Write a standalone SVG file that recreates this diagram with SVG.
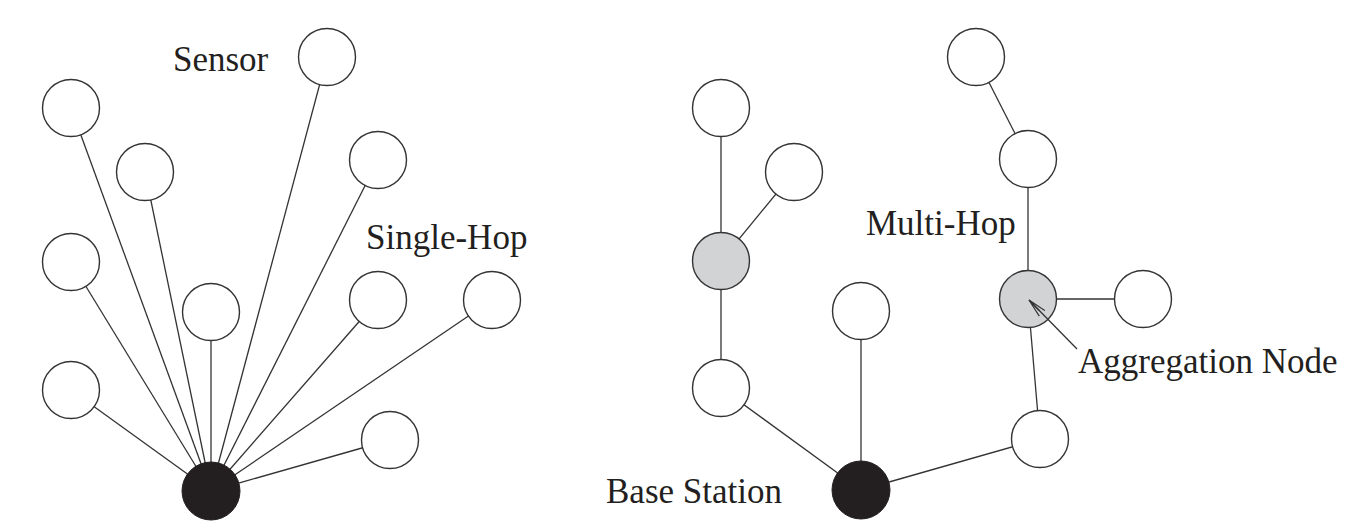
<svg xmlns="http://www.w3.org/2000/svg" width="1353" height="525" viewBox="0 0 1353 525">
<style>
.e{stroke:#333;stroke-width:1.3;fill:none}
.n{fill:#fff;stroke:#333;stroke-width:1.4}
.a{fill:#d1d3d5;stroke:#333;stroke-width:1.4}
.b{fill:#231f20;stroke:#231f20;stroke-width:1}
.t{font-family:"Liberation Serif","Times New Roman",serif;font-size:35px;fill:#231f20}
</style>
<defs>
<marker id="arr" viewBox="0 0 20 10" refX="19" refY="5" markerWidth="20" markerHeight="10" markerUnits="userSpaceOnUse" orient="auto">
<path d="M0,1 L19,5 L0,9 M4,5 L19,5" fill="none" stroke="#333" stroke-width="1.2"/>
</marker>
</defs>
<g id="connectors">
<line class="e" x1="211" y1="491" x2="327" y2="57"/>
<line class="e" x1="211" y1="491" x2="71" y2="108"/>
<line class="e" x1="211" y1="491" x2="145" y2="172"/>
<line class="e" x1="211" y1="491" x2="378" y2="160"/>
<line class="e" x1="211" y1="491" x2="71" y2="262"/>
<line class="e" x1="211" y1="491" x2="211" y2="312"/>
<line class="e" x1="211" y1="491" x2="378" y2="300"/>
<line class="e" x1="211" y1="491" x2="492" y2="300"/>
<line class="e" x1="211" y1="491" x2="71" y2="390"/>
<line class="e" x1="211" y1="491" x2="390" y2="440"/>
<line class="e" x1="721" y1="108" x2="721" y2="261"/>
<line class="e" x1="794" y1="172" x2="721" y2="261"/>
<line class="e" x1="721" y1="261" x2="721" y2="388"/>
<line class="e" x1="721" y1="388" x2="861" y2="490"/>
<line class="e" x1="861" y1="311" x2="861" y2="490"/>
<line class="e" x1="861" y1="490" x2="1040" y2="439"/>
<line class="e" x1="1040" y1="439" x2="1028" y2="299"/>
<line class="e" x1="1028" y1="299" x2="1143" y2="299"/>
<line class="e" x1="1028" y1="299" x2="1028" y2="159"/>
<line class="e" x1="1028" y1="159" x2="976" y2="57"/>
</g>
<g id="single-hop">
<circle id="s1" class="n" cx="327" cy="57" r="28.5"/>
<circle id="s2" class="n" cx="71" cy="108" r="28.5"/>
<circle id="s3" class="n" cx="145" cy="172" r="28.5"/>
<circle id="s4" class="n" cx="378" cy="160" r="28.5"/>
<circle id="s5" class="n" cx="71" cy="262" r="28.5"/>
<circle id="s6" class="n" cx="211" cy="312" r="28.5"/>
<circle id="s7" class="n" cx="378" cy="300" r="28.5"/>
<circle id="s8" class="n" cx="492" cy="300" r="28.5"/>
<circle id="s9" class="n" cx="71" cy="390" r="28.5"/>
<circle id="s10" class="n" cx="390" cy="440" r="28.5"/>
<circle id="base1" class="b" cx="211" cy="491" r="29"/>
</g>
<g id="multi-hop">
<circle id="m1" class="n" cx="721" cy="108" r="28.5"/>
<circle id="m2" class="n" cx="794" cy="172" r="28.5"/>
<circle id="agg1" class="a" cx="721" cy="261" r="28.5"/>
<circle id="m3" class="n" cx="721" cy="388" r="28.5"/>
<circle id="m4" class="n" cx="861" cy="311" r="28.5"/>
<circle id="m5" class="n" cx="976" cy="57" r="28.5"/>
<circle id="m6" class="n" cx="1028" cy="159" r="28.5"/>
<circle id="agg2" class="a" cx="1028" cy="299" r="28.5"/>
<circle id="m7" class="n" cx="1143" cy="299" r="28.5"/>
<circle id="m8" class="n" cx="1040" cy="439" r="28.5"/>
<circle id="base2" class="b" cx="861" cy="490" r="29"/>
</g>
<g id="labels">
<text class="t" x="173" y="71">Sensor</text>
<text class="t" x="366" y="249">Single-Hop</text>
<text class="t" x="866" y="235">Multi-Hop</text>
<text class="t" x="1078" y="373">Aggregation Node</text>
<text class="t" x="606" y="503">Base Station</text>
<line class="e" x1="1077" y1="349" x2="1029" y2="300" marker-end="url(#arr)"/>
</g>
</svg>
